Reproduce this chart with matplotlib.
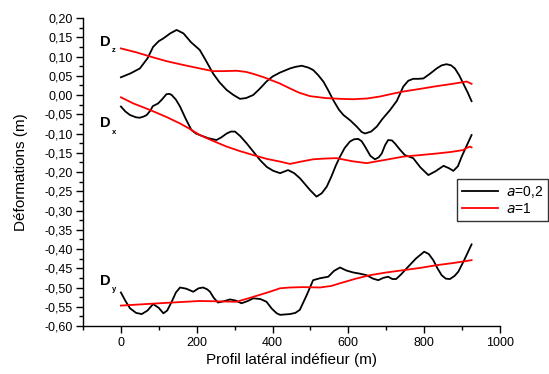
import matplotlib
matplotlib.use("Agg")
import matplotlib.pyplot as plt
from matplotlib.ticker import MultipleLocator, FuncFormatter
from matplotlib.lines import Line2D

plt.rcParams['font.family'] = ['Liberation Sans', 'DejaVu Sans']

# ---- data ----
dz_black_x = [0, 25, 50, 70, 85, 100, 112, 130, 147, 165, 185, 208, 225, 243, 260, 279, 297, 314, 330, 349,
              365, 384, 400, 419, 446, 460, 477, 495, 507, 520, 534, 547, 560, 575, 587, 605, 622, 635, 644,
              660, 675, 690, 710, 728, 745, 758, 771, 785, 798, 815, 833, 846, 859, 871, 881, 893, 903, 915, 925]
dz_black_y = [0.046, 0.056, 0.069, 0.095, 0.125, 0.140, 0.147, 0.160, 0.169, 0.160, 0.137, 0.117, 0.088, 0.056,
              0.033, 0.013, 0.000, -0.010, -0.008, -0.000, 0.015, 0.035, 0.048, 0.058, 0.069, 0.073, 0.076,
              0.071, 0.065, 0.052, 0.035, 0.012, -0.013, -0.038, -0.052, -0.066, -0.082, -0.096, -0.100,
              -0.095, -0.082, -0.062, -0.039, -0.015, 0.022, 0.037, 0.042, 0.042, 0.043, 0.055, 0.069, 0.077,
              0.080, 0.077, 0.069, 0.050, 0.030, 0.006, -0.016]

dz_red_x = [0, 40, 77, 120, 160, 208, 243, 270, 305, 330, 349, 380, 419, 446, 470, 499, 540, 580, 613, 650,
            683, 715, 745, 790, 833, 875, 912, 925]
dz_red_y = [0.121, 0.111, 0.100, 0.088, 0.079, 0.069, 0.062, 0.062, 0.063, 0.060, 0.055, 0.045, 0.030, 0.017,
            0.006, -0.003, -0.008, -0.010, -0.011, -0.009, -0.004, 0.003, 0.009, 0.016, 0.023, 0.029, 0.035, 0.029]

dx_black_x = [0, 12, 24, 40, 50, 60, 68, 78, 84, 98, 108, 120, 128, 134, 145, 156, 170, 186, 198, 208, 230,
              252, 265, 279, 290, 301, 315, 332, 350, 367, 385, 402, 420, 441, 457, 472, 486, 499, 516, 530,
              543, 556, 567, 578, 590, 604, 615, 626, 635, 644, 658, 670, 680, 688, 697, 705, 715, 723, 737,
              749, 760, 771, 790, 811, 830, 851, 865, 877, 889, 899, 912, 925]
dx_black_y = [-0.030, -0.043, -0.052, -0.058, -0.059, -0.056, -0.052, -0.040, -0.029, -0.022, -0.012, 0.002,
              0.003, 0.000, -0.012, -0.030, -0.060, -0.091, -0.100, -0.104, -0.112, -0.117, -0.110, -0.100,
              -0.095, -0.095, -0.107, -0.126, -0.148, -0.169, -0.187, -0.197, -0.203, -0.195, -0.203, -0.216,
              -0.232, -0.247, -0.264, -0.255, -0.238, -0.210, -0.183, -0.160, -0.138, -0.121, -0.115, -0.114,
              -0.120, -0.134, -0.158, -0.167, -0.162, -0.152, -0.130, -0.117, -0.118, -0.126, -0.143, -0.156,
              -0.160, -0.164, -0.188, -0.208, -0.198, -0.184, -0.190, -0.197, -0.185, -0.160, -0.132, -0.104]

dx_red_x = [0, 33, 77, 120, 156, 180, 208, 240, 279, 315, 349, 385, 420, 446, 475, 507, 540, 569, 610, 648,
            700, 745, 790, 833, 870, 903, 915, 921, 925]
dx_red_y = [-0.006, -0.022, -0.039, -0.057, -0.074, -0.087, -0.104, -0.118, -0.134, -0.146, -0.156, -0.166,
            -0.173, -0.179, -0.173, -0.167, -0.165, -0.164, -0.172, -0.177, -0.168, -0.160, -0.156, -0.152,
            -0.148, -0.143, -0.136, -0.134, -0.136]

dy_black_x = [0, 12, 24, 40, 55, 70, 85, 100, 112, 122, 134, 145, 156, 172, 191, 205, 217, 228, 235, 245,
              256, 270, 288, 303, 318, 335, 349, 368, 384, 398, 411, 420, 446, 460, 472, 490, 507, 525, 547,
              562, 578, 595, 613, 630, 648, 665, 679, 692, 705, 716, 726, 740, 754, 778, 800, 812, 824, 835,
              846, 857, 868, 880, 890, 905, 925]
dy_black_y = [-0.513, -0.535, -0.554, -0.566, -0.569, -0.560, -0.543, -0.553, -0.567, -0.560, -0.537, -0.513,
              -0.500, -0.503, -0.511, -0.502, -0.500, -0.505, -0.511, -0.527, -0.539, -0.536, -0.531, -0.534,
              -0.541, -0.535, -0.528, -0.530, -0.537, -0.555, -0.567, -0.571, -0.569, -0.566, -0.558, -0.520,
              -0.481, -0.476, -0.472, -0.457, -0.448, -0.456, -0.461, -0.464, -0.468, -0.477, -0.481, -0.475,
              -0.472, -0.478, -0.478, -0.465, -0.450, -0.425, -0.407, -0.413, -0.429, -0.450, -0.468, -0.477,
              -0.478, -0.470, -0.459, -0.430, -0.388]

dy_red_x = [0, 100, 208, 305, 340, 393, 420, 446, 480, 525, 555, 578, 620, 657, 700, 745, 790, 833, 880, 925]
dy_red_y = [-0.547, -0.541, -0.535, -0.537, -0.527, -0.511, -0.502, -0.500, -0.499, -0.500, -0.496, -0.489,
            -0.477, -0.468, -0.461, -0.455, -0.449, -0.442, -0.436, -0.429]

series_labels = ['$a$=0,2', '$a$=1']
component_labels = ['z', 'x', 'y']
component_label_y = [0.138, -0.073, -0.482]

# ---- figure ----
W, H = 549, 374
fig = plt.figure(figsize=(W / 100, H / 100), dpi=100)
ax = fig.add_axes([83 / W, 1 - 326 / H, (500 - 83) / W, (326 - 18) / H])

lw = 1.3
ax.plot(dz_black_x, dz_black_y, color='black', lw=lw)
ax.plot(dx_black_x, dx_black_y, color='black', lw=lw)
ax.plot(dy_black_x, dy_black_y, color='black', lw=lw)
ax.plot(dz_red_x, dz_red_y, color='#ff0000', lw=lw)
ax.plot(dx_red_x, dx_red_y, color='#ff0000', lw=lw)
ax.plot(dy_red_x, dy_red_y, color='#ff0000', lw=lw)

for c, yv in zip(component_labels, component_label_y):
    ax.text(-55, yv, 'D', fontsize=10.5, fontweight='bold', ha='left', va='center')
    ax.annotate(c, xy=(-55, yv), xytext=(8.3, -6.5), textcoords='offset points',
                fontsize=5.5, fontweight='bold', ha='left', va='center')

ax.set_xlim(-100, 1000)
ax.set_ylim(-0.60, 0.20)
ax.xaxis.set_major_locator(MultipleLocator(200))
ax.xaxis.set_minor_locator(MultipleLocator(100))
ax.yaxis.set_major_locator(MultipleLocator(0.05))
ax.yaxis.set_minor_locator(MultipleLocator(0.025))
ax.yaxis.set_major_formatter(FuncFormatter(lambda v, p: ('%.2f' % v).replace('.', ',').replace('-0,00', '0,00')))
ax.xaxis.set_major_formatter(FuncFormatter(lambda v, p: '%d' % v))

for s in ['top', 'right']:
    ax.spines[s].set_visible(False)
for s in ['left', 'bottom']:
    ax.spines[s].set_linewidth(1.0)
ax.tick_params(which='major', direction='out', length=5, width=1.0, labelsize=9, pad=2.5)
ax.tick_params(which='minor', direction='out', length=3, width=1.0)
ax.tick_params(axis='x', which='major', pad=3)

ax.set_xlabel('Profil latéral indéfieur (m)', fontsize=11, labelpad=3)
ax.set_ylabel('Déformations (m)', fontsize=11, labelpad=12)

handles = [Line2D([], [], color='black', lw=lw), Line2D([], [], color='#ff0000', lw=lw)]
leg = fig.legend(handles, series_labels, loc='upper left', bbox_to_anchor=(457 / W, 1 - 179 / H),
                 bbox_transform=fig.transFigure, fontsize=10, frameon=True, fancybox=False,
                 handlelength=2.6, handletextpad=0.6, borderpad=0.35, labelspacing=0.15, borderaxespad=0)
leg.get_frame().set_edgecolor('black')
leg.get_frame().set_linewidth(1.0)

fig.savefig('out.png', dpi=100)
